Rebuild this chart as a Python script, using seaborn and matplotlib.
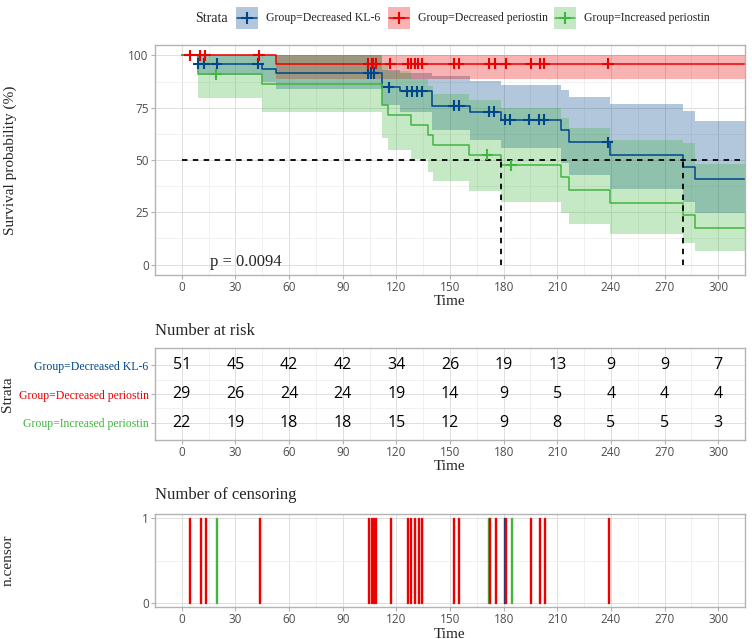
import matplotlib
matplotlib.use('Agg')
import matplotlib.pyplot as plt
import seaborn as sns
import pandas as pd
import numpy as np
from matplotlib.patches import Rectangle
from matplotlib.lines import Line2D

# strata and colours
strata = ['Group=Decreased KL-6', 'Group=Decreased periostin', 'Group=Increased periostin']
colors = ['#00468B', '#ED0000', '#42B540']

# KM steps (time, survival %, lower, upper)
t_kl6 = [0, 8.8, 45, 52.5, 112, 122, 140.2, 161, 178.6, 212, 216.4, 239.7, 280.3, 287.2]
s_kl6 = [100, 96.0, 93.7, 91.6, 84.7, 82.8, 76.0, 73.1, 69.3, 64.2, 58.5, 52.6, 46.8, 41.0]
lo_kl6 = [100, 90.7, 87.4, 84.0, 76.5, 73.0, 64.5, 59.8, 55.8, 48.7, 42.6, 35.9, 29.9, 24.5]
hi_kl6 = [100, 100, 100, 100, 93.0, 91.5, 90.3, 88.0, 85.8, 83.4, 80.2, 76.9, 73.4, 68.6]

t_dec = [0, 52.5]
s_dec = [100, 96.0]
lo_dec = [100, 88.7]
hi_dec = [100, 100]

t_inc = [0, 8.8, 45, 112, 115.3, 128.3, 137.6, 140.4, 160.5, 178.6, 212, 216.4, 239.7, 280.3, 287.2]
s_inc = [100, 91.0, 86.3, 76.5, 71.7, 66.8, 61.8, 57.4, 52.6, 47.4, 42.0, 35.5, 29.6, 23.7, 17.6]
lo_inc = [100, 79.6, 72.8, 60.6, 55.0, 50.6, 44.2, 39.9, 35.1, 29.9, 24.8, 19.2, 14.5, 10.2, 6.5]
hi_inc = [100, 100, 100, 95.8, 92.5, 88.6, 85.3, 81.6, 78.9, 74.9, 70.0, 65.3, 59.8, 58.2, 48.3]

# censoring times
cens_kl6 = [9.3, 12.5, 19.4, 42.6, 104.2, 106.0, 107.4, 115.8, 126.0, 128.9, 131.7, 134.5,
            152.0, 155.0, 171.7, 174.5, 181.0, 183.8, 194.0, 199.6, 202.4, 238.2]
cens_dec = [4.3, 10.2, 13.2, 43.2, 104.3, 106.3, 107.1, 108.4, 116.6, 126.3, 128.1, 130.2,
            132.2, 134.3, 152.2, 154.9, 172.0, 175.2, 181.2, 195.2, 200.2, 202.6, 238.4]
cens_inc = [19.2, 170.8, 184.2]

# bars of the censoring plot
ncens_kl6 = [180.6]
ncens_dec = cens_dec
ncens_inc = [19.2, 171.3, 184.4]

medians = [178.6, 280.3]
pval = 'p = 0.0094'

# number at risk
risk_times = [0, 30, 60, 90, 120, 150, 180, 210, 240, 270, 300]
risk_kl6 = [51, 45, 42, 42, 34, 26, 19, 13, 9, 9, 7]
risk_dec = [29, 26, 24, 24, 19, 14, 9, 5, 4, 4, 4]
risk_inc = [22, 19, 18, 18, 15, 12, 9, 8, 5, 5, 3]

t_end = 315

sns.set_theme(style='whitegrid')
plt.rcParams['font.family'] = ['Open Sans', 'DejaVu Sans']
serif = ['Liberation Serif', 'DejaVu Serif']

W, H = 752, 639
fig = plt.figure(figsize=(W / 100, H / 100), dpi=100)
fig.patch.set_facecolor('white')


def box(l, t, r, b):
    return [l / W, 1 - b / H, (r - l) / W, (b - t) / H]


def fx(px):
    return px / W


def fy(py):
    return 1 - py / H


def style(ax):
    ax.set_facecolor('white')
    ax.set_axisbelow(True)
    for s in ax.spines.values():
        s.set_color('#b3b3b3')
        s.set_linewidth(1.0)
    ax.grid(which='major', color='#dedede', linewidth=0.7)
    ax.grid(which='minor', color='#ececec', linewidth=0.5)
    ax.tick_params(which='major', length=3, width=0.8, color='#b3b3b3',
                   labelsize=8.5, labelcolor='#4d4d4d', pad=1.5,
                   bottom=True, left=True)
    ax.tick_params(which='minor', length=0)
    ax.set_xlim(-15, 315)
    ax.set_xticks(np.arange(0, 301, 30))
    ax.set_xticks(np.arange(15, 315, 30), minor=True)
    ax.set_xlabel('')
    ax.set_ylabel('')


ax1 = fig.add_axes(box(155, 45, 745, 275))
ax2 = fig.add_axes(box(155, 348, 745, 440))
ax3 = fig.add_axes(box(155, 514, 745, 607))

# ---- survival curves ----
style(ax1)
groups = [(t_kl6, s_kl6, lo_kl6, hi_kl6, cens_kl6),
          (t_dec, s_dec, lo_dec, hi_dec, cens_dec),
          (t_inc, s_inc, lo_inc, hi_inc, cens_inc)]

rows = []
marks = []
for name, col, (t, s, lo, hi, cens) in zip(strata, colors, groups):
    tt = t + [t_end]
    ax1.fill_between(tt, lo + [lo[-1]], hi + [hi[-1]], step='post',
                     color=col, alpha=0.3, linewidth=0)
    for ti, si in zip(tt, s + [s[-1]]):
        rows.append((name, ti, si))
    for c in cens:
        k = np.searchsorted(t, c, side='right') - 1
        marks.append((name, c, s[k]))

curve_df = pd.DataFrame(rows, columns=['strata', 'time', 'surv'])
mark_df = pd.DataFrame(marks, columns=['strata', 'time', 'surv'])

sns.lineplot(data=curve_df, x='time', y='surv', hue='strata', hue_order=strata,
             palette=colors, drawstyle='steps-post', estimator=None, sort=False,
             legend=False, linewidth=1.1, ax=ax1)
sns.scatterplot(data=mark_df, x='time', y='surv', hue='strata', hue_order=strata,
                palette=colors, marker='+', s=65, linewidth=1.5, legend=False,
                ax=ax1, zorder=4)

ax1.plot([0, t_end], [50, 50], color='black', linestyle=(0, (3, 3)), linewidth=1.3)
for m in medians:
    ax1.plot([m, m], [0, 50], color='black', linestyle=(0, (3, 3)), linewidth=1.3)

ax1.set_ylim(-5, 105)
ax1.set_yticks([0, 25, 50, 75, 100])
ax1.set_yticks([12.5, 37.5, 62.5, 87.5], minor=True)
ax1.set_xlabel('')
ax1.set_ylabel('')
ax1.text(15.5, 1, pval, family=serif, fontsize=12, va='center', ha='left')

# ---- risk table ----
style(ax2)
risk_rows = [risk_kl6, risk_dec, risk_inc]
ypos = [3, 2, 1]
for yv, vals in zip(ypos, risk_rows):
    for tv, v in zip(risk_times, vals):
        ax2.text(tv, yv, str(v), ha='center', va='center', fontsize=11.5, color='black')
ax2.set_ylim(0.4, 3.6)
ax2.set_yticks(ypos)
ax2.set_yticks([1.5, 2.5], minor=True)
ax2.set_yticklabels(strata, family=serif, fontsize=8.5)
for lab, col in zip(ax2.get_yticklabels(), colors):
    lab.set_color(col)

# ---- censoring ----
style(ax3)
for times, col in zip([ncens_kl6, ncens_inc, ncens_dec], [colors[0], colors[2], colors[1]]):
    ax3.bar(times, [1] * len(times), width=0.6, color=col, edgecolor=col, linewidth=1.0)
ax3.set_ylim(-0.05, 1.05)
ax3.set_yticks([0, 1])
ax3.set_yticks([0.5], minor=True)

# ---- texts ----
for y in [302, 467, 634]:
    fig.text(fx(450), fy(y), 'Time', family=serif, fontsize=11, ha='center', va='center')
fig.text(fx(10), fy(160), 'Survival probability (%)', family=serif, fontsize=11,
         rotation=90, ha='center', va='center')
fig.text(fx(8), fy(394), 'Strata', family=serif, fontsize=11, rotation=90, ha='center', va='center')
fig.text(fx(8), fy(560), 'n.censor', family=serif, fontsize=11, rotation=90, ha='center', va='center')
fig.text(fx(155), fy(331), 'Number at risk', family=serif, fontsize=12, ha='left', va='center')
fig.text(fx(155), fy(495), 'Number of censoring', family=serif, fontsize=12, ha='left', va='center')

# ---- legend ----
ly = 18
fig.text(fx(195), fy(ly), 'Strata', family=serif, fontsize=10, ha='left', va='center')
key_x = [236, 388, 554]
for kx, name, col in zip(key_x, strata, colors):
    fig.add_artist(Rectangle((fx(kx), fy(ly + 11)), 22 / W, 22 / H, transform=fig.transFigure,
                             facecolor=col, alpha=0.3, edgecolor='none'))
    fig.add_artist(Line2D([fx(kx + 1), fx(kx + 21)], [fy(ly), fy(ly)], transform=fig.transFigure,
                          color=col, linewidth=1.1))
    fig.add_artist(Line2D([fx(kx + 11)], [fy(ly)], transform=fig.transFigure, color=col,
                          marker='+', markersize=8, markeredgewidth=1.5, linestyle='none'))
    fig.text(fx(kx + 30), fy(ly), name, family=serif, fontsize=8.5, ha='left', va='center')

fig.savefig('out.png', dpi=100, facecolor='white')
